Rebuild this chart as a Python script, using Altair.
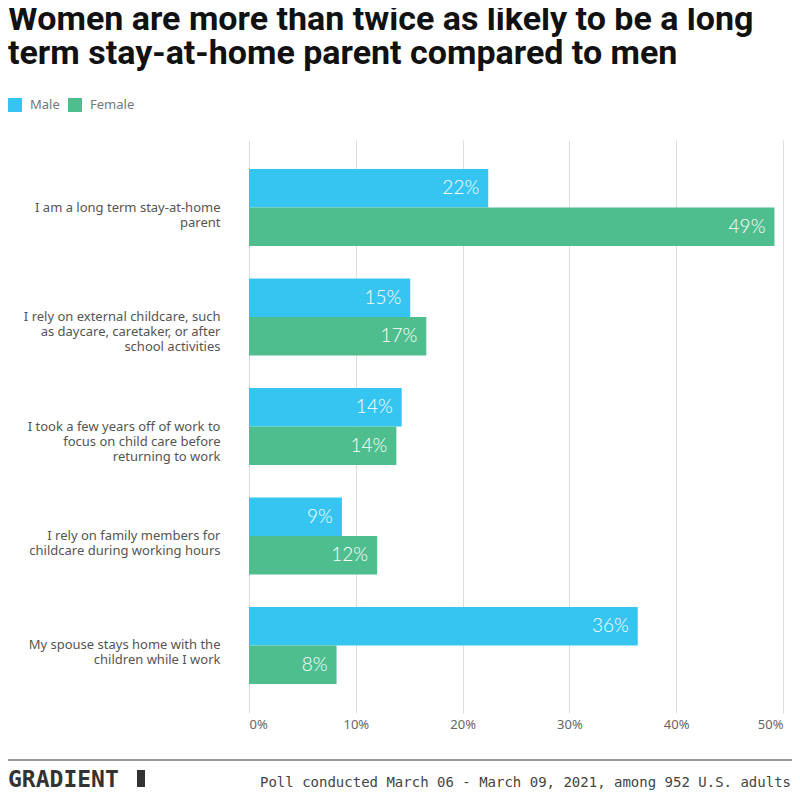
import altair as alt
import pandas as pd

questions = [
    "I am a long term stay-at-home|parent",
    "I rely on external childcare, such|as daycare, caretaker, or after|school activities",
    "I took a few years off of work to|focus on child care before|returning to work",
    "I rely on family members for|childcare during working hours",
    "My spouse stays home with the|children while I work",
]
male = [22.4, 15.1, 14.3, 8.7, 36.4]
female = [49.2, 16.6, 13.8, 12.0, 8.2]
genders = ["Male", "Female"]
colors = ["#36C5F0", "#4FBE8F"]
x_ticks = [0, 10, 20, 30, 40, 50]

title_line1 = "Women are more than twice as likely to be a long"
title_line2 = "term stay-at-home parent compared to men"
brand = "GRADIENT"
source = "Poll conducted March 06 - March 09, 2021, among 952 U.S. adults"

rows = []
for q, m, f in zip(questions, male, female):
    rows.append({"question": q, "gender": "Male", "value": m, "label": f"{round(m)}%"})
    rows.append({"question": q, "gender": "Female", "value": f, "label": f"{round(f)}%"})
df = pd.DataFrame(rows)

W, H = 534, 573

x_enc = alt.X(
    "value:Q",
    scale=alt.Scale(domain=[0, 50], nice=False),
    axis=alt.Axis(
        values=x_ticks, title=None, labelExpr="datum.value + '%'",
        grid=True, gridColor="#dddddd", gridWidth=1, domain=False, ticks=False,
        labelFont="Noto Sans", labelFontSize=13, labelColor="#666666", labelPadding=5,
    ),
)
y_enc = alt.Y(
    "question:N", sort=questions,
    scale=alt.Scale(paddingInner=0.297, paddingOuter=0.265),
    axis=alt.Axis(
        title=None, domain=False, ticks=False, labelExpr="split(datum.value, '|')",
        labelFont="Noto Sans", labelFontSize=13, labelColor="#555555",
        labelPadding=29, labelLineHeight=15, labelLimit=300,
    ),
)
yoff = alt.YOffset("gender:N", sort=genders, scale=alt.Scale(paddingInner=0, paddingOuter=0))

base = alt.Chart(df)
bars = base.mark_bar().encode(
    x=x_enc, y=y_enc, yOffset=yoff,
    color=alt.Color(
        "gender:N", sort=genders,
        scale=alt.Scale(domain=genders, range=colors),
        legend=alt.Legend(
            orient="none", legendX=-241, legendY=-42, direction="horizontal",
            title=None, symbolType="square", symbolSize=196, symbolStrokeWidth=0,
            symbolOpacity=1, labelFontSize=13, labelColor="#777777", labelFont="Noto Sans",
            columnPadding=8, labelOffset=8, padding=0,
        ),
    ),
)
texts = base.mark_text(
    align="right", baseline="middle", dx=-9, color="white", font="Lato",
    fontWeight=300, fontSize=19,
).encode(
    x=alt.X("value:Q"), y=alt.Y("question:N", sort=questions), yOffset=yoff, text="label:N"
)

one = pd.DataFrame({"a": [0]})
title_style = dict(align="left", baseline="alphabetic", font="Roboto", fontWeight="bold",
                   fontSize=34, color="#111111")
title1 = alt.Chart(one).mark_text(**title_style).encode(
    x=alt.value(-241), y=alt.value(-110), text=alt.value(title_line1))
title2 = alt.Chart(one).mark_text(**title_style).encode(
    x=alt.value(-241), y=alt.value(-76), text=alt.value(title_line2))

rule = alt.Chart(one).mark_rule(color="#999999", strokeWidth=2).encode(
    x=alt.value(-241), x2=alt.value(543), y=alt.value(620)
)
brand_text = alt.Chart(one).mark_text(
    align="left", baseline="alphabetic", font="DejaVu Sans Mono", fontWeight="bold",
    fontSize=23, color="#333333",
).encode(x=alt.value(-241), y=alt.value(647), text=alt.value(brand))
block = alt.Chart(one).mark_rect(color="#333333").encode(
    x=alt.value(-112), x2=alt.value(-104), y=alt.value(630), y2=alt.value(647)
)
source_text = alt.Chart(one).mark_text(
    align="right", baseline="alphabetic", font="DejaVu Sans Mono",
    fontSize=14, color="#444444",
).encode(x=alt.value(542), y=alt.value(647), text=alt.value(source))

chart = alt.layer(bars, texts, title1, title2, rule, brand_text, block, source_text).properties(
    width=W, height=H,
    autosize=alt.AutoSizeParams(type="none"),
    padding={"left": 241, "top": 132, "right": 9, "bottom": 79},
).configure_view(stroke=None)

chart.save("out.html", embed_options={"renderer": "svg", "actions": False})
